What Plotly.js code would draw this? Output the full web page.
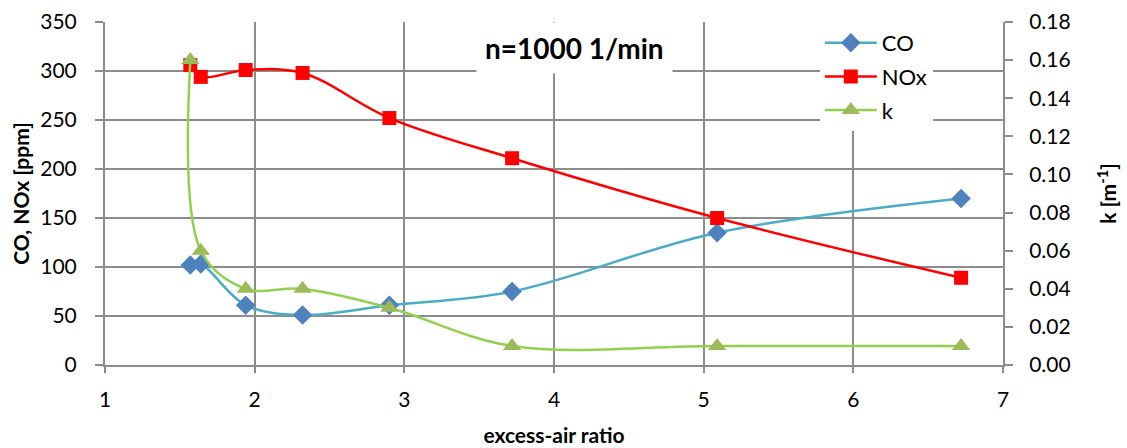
<!DOCTYPE html>
<html>
<head>
<meta charset="utf-8">
<script src="https://cdn.plot.ly/plotly-3.0.1.min.js"></script>
<style>html,body{margin:0;padding:0;background:#fff;}#chart{width:1127px;height:448px;}</style>
</head>
<body>
<div id="chart"></div>
<script>
const excessAir = [1.57, 1.64, 1.94, 2.32, 2.90, 3.72, 5.09, 6.72];
const coPpm = [102, 103, 61, 51, 61, 75, 135, 170];
const noxPpm = [306, 294, 301, 298, 252, 211, 150, 89];
const kValues = [0.160, 0.060, 0.040, 0.040, 0.030, 0.010, 0.010, 0.010];
const titleText = "n=1000 1/min";

const FONT = "Lato, 'Open Sans', sans-serif";
const GRID = "#8c8c8c";

const traces = [
  {x: excessAir, y: coPpm, name: "CO", mode: "lines+markers", yaxis: "y", legendgroup: "a",
   line: {color: "#4BACC6", width: 2.5, shape: "spline", smoothing: 1},
   marker: {symbol: "diamond", color: "#4F81BD", size: 15}},
  {x: excessAir, y: noxPpm, name: "NOx", mode: "lines+markers", yaxis: "y", legendgroup: "b",
   line: {color: "#FF0000", width: 2.5, shape: "spline", smoothing: 1},
   marker: {symbol: "square", color: "#FF0000", size: 14}},
  {x: excessAir, y: kValues, name: "k", mode: "lines+markers", yaxis: "y2", legendgroup: "c",
   line: {color: "#92D050", width: 2.5, shape: "spline", smoothing: 1},
   marker: {symbol: "triangle-up", color: "#9BBB59", size: 16}}
];

const layout = {
  width: 1127, height: 448,
  margin: {l: 105, r: 124, t: 22, b: 83},
  paper_bgcolor: "#fff", plot_bgcolor: "#fff",
  font: {family: FONT, size: 21, color: "#000"},
  showlegend: true,
  legend: {x: 0.796, y: 1.0, xanchor: "left", yanchor: "top", traceorder: "grouped",
           bgcolor: "#fff", font: {size: 22, family: FONT}, tracegroupgap: 2, itemwidth: 52},
  xaxis: {range: [1, 7], dtick: 1, tick0: 1, showgrid: true, gridcolor: GRID, gridwidth: 2,
          zeroline: false, showline: true, linecolor: GRID, linewidth: 2,
          ticks: "outside", ticklen: 6, tickcolor: GRID, tickwidth: 2,
          tickfont: {size: 21}, ticklabelstandoff: 9,
          title: {text: "<b>excess-air ratio</b>", font: {size: 21}, standoff: 18}},
  xaxis2: {range: [1, 7], dtick: 1, tick0: 1, overlaying: "x", anchor: "y", showgrid: false,
           zeroline: false, showline: false, ticks: "inside", ticklen: 6, tickcolor: GRID,
           tickwidth: 2, showticklabels: false},
  yaxis: {range: [0, 350], dtick: 50, showgrid: true, gridcolor: GRID, gridwidth: 2,
          zeroline: false, showline: true, linecolor: GRID, linewidth: 2,
          ticks: "outside", ticklen: 8, tickcolor: GRID, tickwidth: 2,
          tickfont: {size: 21}, ticklabelstandoff: 14,
          title: {text: "<b>CO, NOx [ppm]</b>", font: {size: 21}, standoff: 5}},
  yaxis2: {range: [0, 0.18], dtick: 0.02, tickformat: ".2f", overlaying: "y", side: "right",
           showgrid: false, zeroline: false, showline: true, linecolor: GRID, linewidth: 2,
           ticks: "outside", ticklen: 8, tickcolor: GRID, tickwidth: 2,
           tickfont: {size: 21}, ticklabelstandoff: 12,
           title: {text: "<b>k [m<sup>-1</sup>]</b>", font: {size: 21}, standoff: 32}},
  annotations: [{
    text: "<b>" + titleText + "</b>", xref: "paper", yref: "paper",
    x: 0.523, y: 0.924, xanchor: "center", yanchor: "middle", showarrow: false,
    font: {size: 28, family: FONT, color: "#000"}, bgcolor: "#fff", borderpad: 8
  }]
};

traces.push({x: [1], y: [0], xaxis: "x2", yaxis: "y", mode: "markers",
             marker: {opacity: 0}, showlegend: false, hoverinfo: "skip"});

Plotly.newPlot("chart", traces, layout, {displayModeBar: false, staticPlot: true});
</script>
</body>
</html>
